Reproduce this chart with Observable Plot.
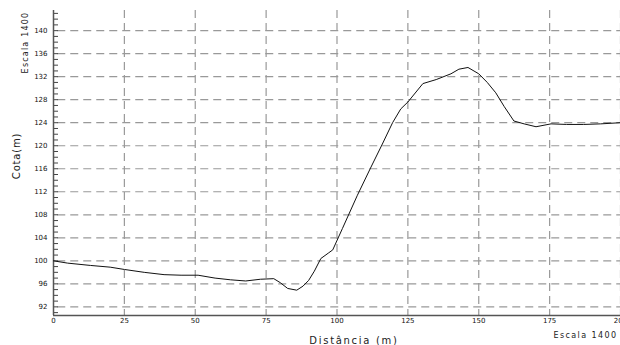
<!DOCTYPE html>
<html>
<head>
<meta charset="utf-8">
<script src="https://cdn.jsdelivr.net/npm/d3@7"></script>
<script src="https://cdn.jsdelivr.net/npm/@observablehq/plot@0.6"></script>
<style>
  html, body { margin: 0; padding: 0; background: #fff; }
  svg { display: block; }
</style>
</head>
<body>
<div id="chart"></div>
<script>
// Profile data (distance in m, elevation in m)
const distancia = [0, 5, 13, 20, 25, 32, 39, 45, 51, 57, 62.5, 67.8, 73, 77.7, 80, 82.6, 85.8, 88, 90, 92, 94.3, 97.1, 98.5, 101.9, 107.2, 112, 116, 119.6, 122.5, 125, 130.3, 135, 140.2, 143, 146.2, 150, 153, 156, 159, 162.4, 166, 170.2, 175.5, 181, 187, 193, 200];
const cota = [100, 99.6, 99.2, 98.9, 98.5, 98.0, 97.6, 97.5, 97.5, 97.0, 96.7, 96.5, 96.8, 96.9, 96.2, 95.2, 94.9, 95.6, 96.6, 98.2, 100.4, 101.4, 101.9, 105.6, 111.4, 116.3, 120.3, 124, 126.4, 127.6, 130.8, 131.5, 132.5, 133.3, 133.6, 132.5, 131, 129.2, 126.8, 124.3, 123.8, 123.3, 123.8, 123.7, 123.7, 123.8, 124];

const xTicks = [0, 25, 50, 75, 100, 125, 150, 175, 200];
const xGrid = [25, 50, 75, 100, 125, 150, 175, 200];
const yTicks = [92, 96, 100, 104, 108, 112, 116, 120, 124, 128, 132, 136, 140];
const yMinor = d3.range(91, 144);
const xDomain = [0, 200];
const yDomain = [90.5, 143.5];

const xLabel = "Distância (m)";
const yLabel = "Cota(m)";
const scaleLabel = "Escala 1400";

const data = distancia.map((d, i) => ({ d, c: cota[i] }));

const chart = Plot.plot({
  width: 620,
  height: 345,
  marginLeft: 53,
  marginRight: 0,
  marginTop: 10,
  marginBottom: 30,
  style: { fontFamily: "DejaVu Sans", fontSize: "7px", color: "#222", background: "#fff" },
  x: { domain: xDomain, label: null },
  y: { domain: yDomain, label: null },
  marks: [
    Plot.gridX(xGrid, { stroke: "#999", strokeOpacity: 1, strokeWidth: 1.2, strokeDasharray: "8,5" }),
    Plot.gridY(yTicks, { stroke: "#999", strokeOpacity: 1, strokeWidth: 1.2, strokeDasharray: "8,5", x1: 1.5 }),
    Plot.axisY(yMinor, { tickSize: -5, tickFormat: () => "", stroke: "#444", label: null }),
    Plot.axisY(yTicks, { tickSize: 0, tickPadding: 6, fill: "#111", label: null, fontSize: 7 }),
    Plot.axisX(xTicks, { tickSize: 0, tickPadding: 3, fill: "#111", label: null, fontSize: 7 }),
    Plot.ruleX([xDomain[0]], { stroke: "#555", strokeWidth: 1.5 }),
    Plot.ruleY([yDomain[0]], { stroke: "#555", strokeWidth: 1.5 }),
    Plot.line(data, { x: "d", y: "c", stroke: "#111", strokeWidth: 1 }),
    Plot.text([xLabel], { text: d => d, frameAnchor: "bottom", dx: 17, dy: 28, lineAnchor: "bottom", fontSize: 10, fill: "#222" }),
    Plot.text([scaleLabel], { text: d => d, frameAnchor: "bottom-right", textAnchor: "start", dx: -67, dy: 22, lineAnchor: "bottom", fontSize: 8, fill: "#222", className: "scale-br" }),
    Plot.text([scaleLabel], { text: d => d, frameAnchor: "top-left", textAnchor: "middle", rotate: -90, dx: -31, dy: 32, fontSize: 8, fill: "#222", className: "scale-tl" }),
    Plot.text([yLabel], { text: d => d, frameAnchor: "left", textAnchor: "middle", rotate: -90, dx: -37, dy: -7, fontSize: 10, fill: "#222" })
  ]
});

// letter spacing for the wide bitmap-like labels
d3.select(chart).selectAll("text").filter(function() { return this.textContent === xLabel; }).style("letter-spacing", "1.7px");
d3.select(chart).selectAll(".scale-br text").style("letter-spacing", "1.4px");
d3.select(chart).selectAll(".scale-tl text").style("letter-spacing", "1.2px");
d3.select(chart).selectAll("text").filter(function() { return this.textContent === yLabel; }).style("letter-spacing", "0.8px");

document.getElementById("chart").appendChild(chart);
</script>
</body>
</html>
